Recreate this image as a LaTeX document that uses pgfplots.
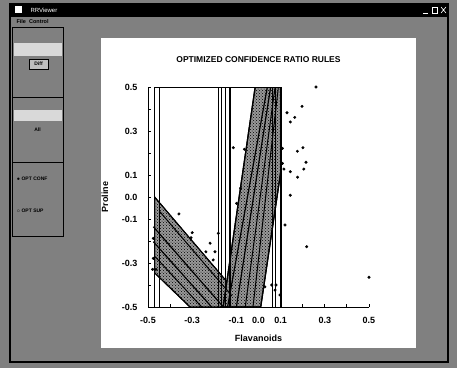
\documentclass[border=0pt]{standalone}
\usepackage{fontspec}
\setmainfont{Liberation Sans}
\usepackage{pgfplots}
\pgfplotsset{compat=1.18}
\usetikzlibrary{patterns}
\begin{document}
\begin{tikzpicture}[x=1pt,y=1pt]
\useasboundingbox (0,0) rectangle (457,368);
\fill[black!50] (0,0) rectangle (457,368);
\begin{scope}[yshift=368pt,yscale=-1]
% window frame
\draw[black,line width=2pt] (10,4) -- (10,362) -- (448,362) -- (448,4);
\fill[black] (9,3) rectangle (449,17);
\fill[white] (15,6) rectangle (22,13);
\node[anchor=west,text=white,font=\fontsize{6}{7}\selectfont] at (27,10.5) {RRViewer};
\draw[white,line width=0.6pt] (423,13) -- (428,13);
\draw[white,line width=0.6pt] (432,7) rectangle (437,13);
\draw[white,line width=0.6pt] (441,7) -- (446,13) (441,13) -- (446,7);
\node[anchor=west,font=\bfseries\fontsize{5.5}{6}\selectfont] at (13,22) {File\ \ Control};
% left panel
\draw[black,line width=0.8pt] (12,27) rectangle (63,236);
\draw[black,line width=0.8pt] (12,97) -- (63,97);
\draw[black,line width=0.8pt] (12,162) -- (63,162);
\fill[white!85!black] (14,43) rectangle (62,56);
\fill[white!85!black] (14,110) rectangle (62,121);
\draw[black,fill=black!25] (29,59) rectangle (48,69);
\node[font=\bfseries\fontsize{5}{6}\selectfont] at (38.5,64) {Diff};
\node[font=\bfseries\fontsize{5}{6}\selectfont] at (37.5,130) {All};
\node[anchor=west,font=\bfseries\fontsize{5}{6}\selectfont] at (13,179) {$\bullet$ OPT CONF};
\node[anchor=west,font=\bfseries\fontsize{5}{6}\selectfont] at (13,211) {$\circ$ OPT SUP};
% plot panel
\fill[white] (101,38) rectangle (416,348);
\end{scope}
\begin{axis}[
  at={(148pt,61pt)}, anchor=south west,
  scale only axis, width=221pt, height=220pt,
  xmin=-0.5, xmax=0.5, ymin=-0.5, ymax=0.5,
  axis x line*=bottom, axis y line*=left,
  axis line style={line width=0.9pt,-},
  tick align=inside,
  major tick length=3pt, minor tick length=3pt,
  every tick/.style={black,line width=0.8pt},
  xtick={-0.5,-0.3,-0.1,0,0.1,0.3,0.5},
  xticklabels={-0.5,-0.3,-0.1,0.0,0.1,0.3,0.5},
  minor xtick={-0.4,-0.2,0.2,0.4},
  ytick={-0.5,-0.3,-0.1,0,0.1,0.3,0.5},
  yticklabels={-0.5,-0.3,-0.1,0.0,0.1,0.3,0.5},
  minor ytick={-0.4,-0.2,0.2,0.4},
  ticklabel style={font=\bfseries\fontsize{9}{10}\selectfont},
  xticklabel style={yshift=-7pt},
  yticklabel style={xshift=-7pt},
  title={OPTIMIZED CONFIDENCE RATIO RULES},
  title style={at={(0.5,1.0955)},anchor=center,font=\bfseries\fontsize{8.5}{10}\selectfont},
  xlabel={Flavanoids},
  xlabel style={at={(0.5,-0.141)},anchor=center,font=\bfseries\fontsize{9}{10}\selectfont},
  ylabel={Proline},
  ylabel style={at={(-0.1946,0.5)},anchor=center,font=\bfseries\fontsize{9}{10}\selectfont},
  clip=true,
]
% left (falling) band
\addplot[fill=black!40,postaction={pattern=crosshatch dots,pattern color=black},draw=black,line width=1pt] coordinates {(-0.47,0.0) (-0.045,-0.5) (-0.31,-0.5) (-0.47,-0.345)} -- cycle;
% right (rising) band
\addplot[fill=black!40,postaction={pattern=crosshatch dots,pattern color=black},draw=black,line width=1.2pt] coordinates {(-0.16,-0.5) (-0.015,0.5) (0.1,0.5) (0.1,0.11) (0.01,-0.5)} -- cycle;
% dark rule lines inside left band
\addplot[black,line width=1.2pt] coordinates {(-0.476,-0.135) (-0.159,-0.5)};
\addplot[black,line width=1.2pt] coordinates {(-0.476,-0.203) (-0.212,-0.5)};
\addplot[black,line width=1pt] coordinates {(-0.446,-0.067) (-0.12,-0.45)};
\addplot[black,line width=1pt] coordinates {(-0.468,-0.271) (-0.257,-0.5)};
% dark rule lines inside right band
\addplot[black,line width=1.2pt] coordinates {(-0.14,-0.5) (0.04,0.5)};
\addplot[black,line width=1.2pt] coordinates {(-0.10,-0.5) (0.055,0.5)};
\addplot[black,line width=1pt] coordinates {(-0.06,-0.5) (0.075,0.5)};
\addplot[black,line width=1pt] coordinates {(-0.025,-0.5) (0.09,0.5)};
% vertical rule boundaries
\addplot[black,line width=0.8pt] coordinates {(-0.47,-0.5) (-0.47,0.5) (0.1,0.5)};
\addplot[black,line width=1.8pt] coordinates {(0.1,0.5) (0.1,-0.5)};
\addplot[black,line width=0.8pt] coordinates {(-0.447,-0.5) (-0.447,0.5)};
\addplot[black,line width=0.8pt] coordinates {(-0.183,-0.5) (-0.183,0.5)};
\addplot[black,line width=0.8pt] coordinates {(-0.167,-0.5) (-0.167,0.5)};
\addplot[black,line width=0.8pt] coordinates {(-0.152,-0.5) (-0.152,0.5)};
\addplot[black,line width=1.8pt] coordinates {(-0.13,-0.5) (-0.13,0.5)};
\addplot[black,line width=0.8pt] coordinates {(0.061,-0.5) (0.061,0.5)};
\addplot[black,line width=0.8pt] coordinates {(0.075,-0.5) (0.075,0.5)};
% data points
\addplot[only marks,mark=*,mark size=1.3pt,black] coordinates {
(0.26,0.50) (0.197,0.412) (0.129,0.383) (0.164,0.362) (0.144,0.341)
(0.201,0.224) (0.176,0.208) (0.108,0.221) (0.215,0.158) (0.205,0.127)
(0.115,0.127) (0.108,0.153) (0.144,0.115) (0.177,0.090) (0.144,0.008)
(0.120,-0.127) (0.218,-0.226) (0.50,-0.365) (0.079,-0.40) (0.097,-0.445)
(-0.114,0.224) (-0.064,0.217) (-0.081,0.040) (-0.099,-0.029)
(-0.219,-0.21) (-0.238,-0.249) (-0.197,-0.249) (-0.205,-0.286) (-0.182,-0.165)
(0.029,-0.408) (0.06,-0.40) (0.075,-0.423)
(-0.36,-0.077) (-0.30,-0.162) (-0.305,-0.185)
(-0.476,-0.188) (-0.476,-0.279) (-0.464,-0.329) (-0.479,-0.329)
};
\end{axis}
\end{tikzpicture}
\end{document}
